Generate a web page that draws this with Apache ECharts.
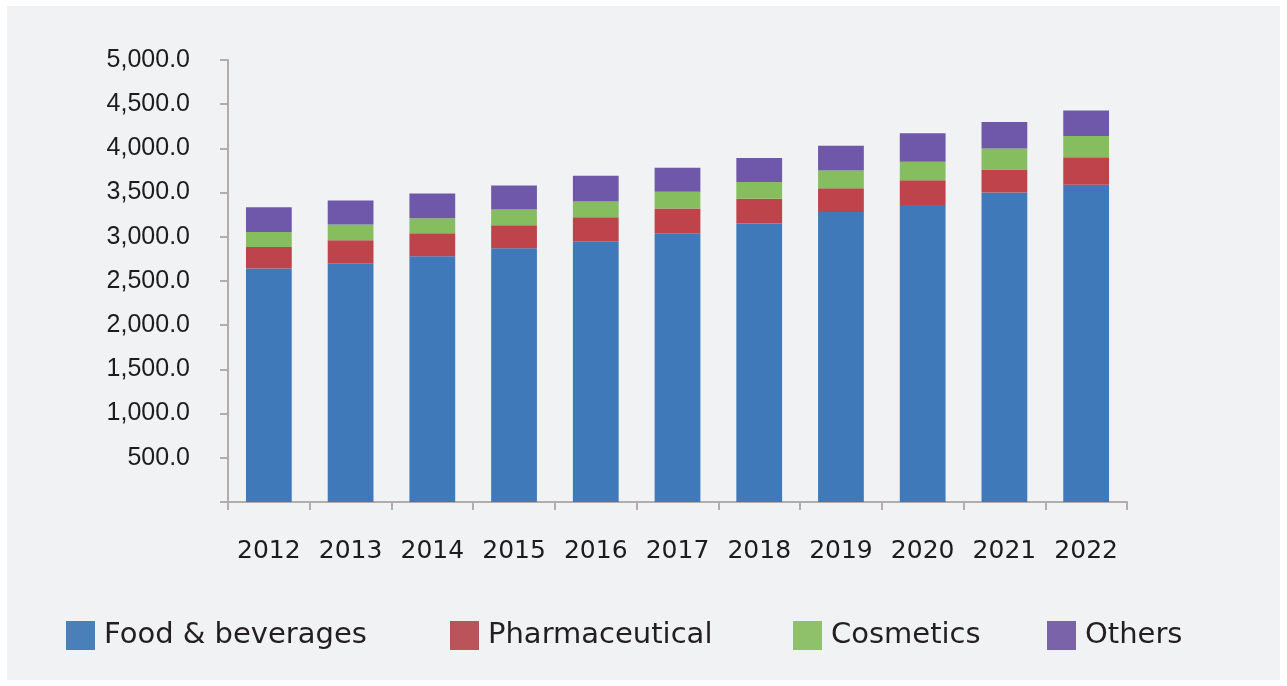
<!DOCTYPE html>
<html>
<head>
<meta charset="utf-8">
<script src="https://cdn.jsdelivr.net/npm/echarts@6/dist/echarts.min.js"></script>
<style>
  html, body { margin: 0; padding: 0; background: #fff; }
  #chart { position: absolute; left: 7px; top: 6px; width: 1273px; height: 674px; background: #f1f2f4; }
</style>
</head>
<body>
<div id="chart"></div>
<script>
const years = ['2012', '2013', '2014', '2015', '2016', '2017', '2018', '2019', '2020', '2021', '2022']
const food = [2640, 2700, 2780, 2870, 2950, 3040, 3150, 3280, 3360, 3500, 3590]
const pharma = [245, 260, 260, 260, 270, 280, 280, 270, 280, 260, 310]
const cosmetics = [170, 180, 170, 180, 180, 190, 190, 200, 210, 240, 240]
const others = [280, 270, 280, 270, 290, 270, 270, 280, 320, 300, 290]

const names = ['Food & beverages', 'Pharmaceutical', 'Cosmetics', 'Others']
const barColors = ['#3f79b9', '#bf434a', '#86bd5e', '#6f58a9']
const legendColors = ['#4a80ba', '#bb535a', '#8fc06a', '#7a63a8']
const legendLeft = [54, 438, 781, 1035]

const chart = echarts.init(document.getElementById('chart'))

const font = '"DejaVu Sans", "Open Sans", sans-serif'

// one legend per item so each sits where the reference puts it
const legends = names.map((n, i) => ({
  left: legendLeft[i],
  top: 610,
  itemWidth: 29,
  itemHeight: 29,
  icon: 'rect',
  data: [{ name: n, itemStyle: { color: legendColors[i] } }],
  textStyle: { fontFamily: font, fontSize: 29, color: '#231f20', padding: [0, 0, 0, 4] }
}))

const seriesData = [food, pharma, cosmetics, others]

chart.setOption({
  animation: false,
  grid: { left: 221, top: 54, right: 153, bottom: 178, containLabel: false },
  legend: legends,
  xAxis: {
    type: 'category',
    data: years,
    axisLine: { lineStyle: { color: '#b3acab', width: 2 } },
    axisTick: { show: true, interval: 0, length: 8, lineStyle: { color: '#b3acab', width: 2 } },
    axisLabel: { interval: 0, hideOverlap: false, fontFamily: font, fontSize: 25, color: '#1c1c1c', margin: 37 }
  },
  yAxis: {
    type: 'value',
    min: 0,
    max: 5000,
    interval: 500,
    axisLine: { show: true, lineStyle: { color: '#b3acab', width: 2 } },
    axisTick: { show: true, length: 8, lineStyle: { color: '#b3acab', width: 2 } },
    splitLine: { show: false },
    axisLabel: {
      fontFamily: '"Liberation Sans", Arial, sans-serif',
      fontSize: 25,
      color: '#1c1c1c',
      margin: 38,
      formatter: v => v === 0 ? '' : v.toLocaleString('en-US', { minimumFractionDigits: 1, maximumFractionDigits: 1 })
    }
  },
  series: names.map((n, i) => ({
    name: n,
    type: 'bar',
    stack: 'total',
    barWidth: '56%',
    itemStyle: { color: barColors[i] },
    data: seriesData[i]
  }))
})
</script>
</body>
</html>
